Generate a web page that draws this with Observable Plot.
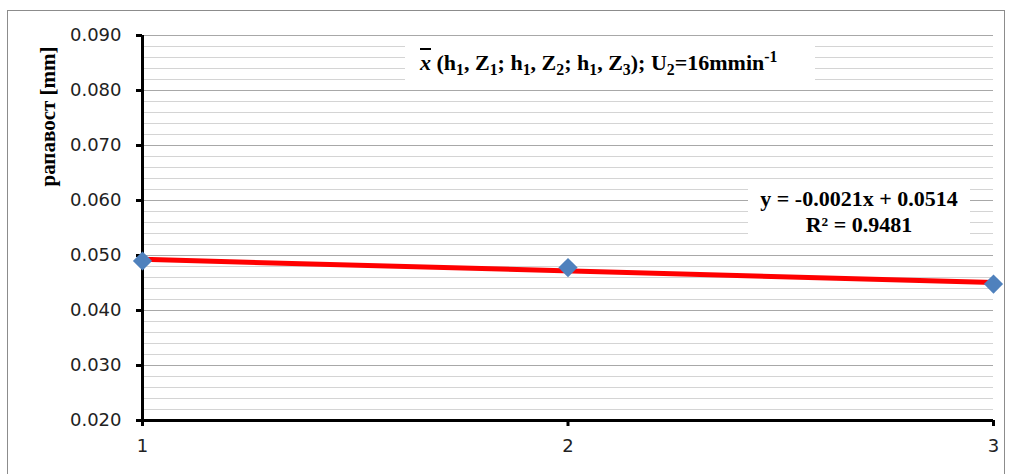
<!DOCTYPE html>
<html><head><meta charset="utf-8">
<script src="https://cdn.jsdelivr.net/npm/d3@7"></script>
<script src="https://cdn.jsdelivr.net/npm/@observablehq/plot@0.6"></script>
<style>
body{margin:0;background:#fff;}
#wrap{position:relative;width:1010px;height:474px;overflow:hidden;background:#fff;}
#border{position:absolute;left:7px;top:10px;width:998px;height:480px;border:1px solid #8c8c8c;box-sizing:border-box;}
#chart{position:absolute;left:0;top:0;}
.box{position:absolute;background:#fff;font-family:"Liberation Serif","Times New Roman",serif;font-weight:bold;color:#000;white-space:nowrap;}
#title{left:405px;top:37px;width:410px;height:52px;font-size:22px;line-height:52px;padding-left:15px;box-sizing:border-box;}
#eq{left:748px;top:186px;width:222px;height:54px;font-size:22px;line-height:26px;text-align:center;}
.ov{text-decoration:overline;font-style:italic;}
sub,sup{font-size:72%;line-height:0;}
</style></head><body>
<div id="wrap"><div id="border"></div><div id="chart"></div>
<div class="box" id="title"></div>
<div class="box" id="eq"></div>
</div>
<script>
// data
const xValues = [1, 2, 3];
const yValues = [0.0490, 0.0478, 0.0448];
const xTicks = [1, 2, 3];
const yTicks = [0.020, 0.030, 0.040, 0.050, 0.060, 0.070, 0.080, 0.090];
const yMinor = d3.range(0.020, 0.0901, 0.002);
const yLabel = "рапавост [mm]";
const titleHTML = '<span class="ov">x</span> (h<sub>1</sub>, Z<sub>1</sub>; h<sub>1</sub>, Z<sub>2</sub>; h<sub>1</sub>, Z<sub>3</sub>); U<sub>2</sub>=16mmin<sup>-1</sup>';
const eqLines = ["y = -0.0021x + 0.0514", "R² = 0.9481"];

const data = xValues.map((x, i) => ({x, y: yValues[i]}));

const squareDiamond = {
  draw(ctx, size) {
    const h = Math.sqrt(size / Math.PI) * 1.2;
    ctx.moveTo(0, -h); ctx.lineTo(h, 0); ctx.lineTo(0, h); ctx.lineTo(-h, 0); ctx.closePath();
  }
};

const chart = Plot.plot({
  width: 1010,
  height: 474,
  marginLeft: 142,
  marginRight: 17,
  marginTop: 35,
  marginBottom: 54,
  style: {fontFamily: "'DejaVu Sans', sans-serif", fontSize: "18px", color: "#222", background: "transparent"},
  x: {domain: [1, 3]},
  y: {domain: [0.020, 0.090]},
  marks: [
    Plot.ruleY(yMinor, {stroke: "#d4d4d4", strokeWidth: 1}),
    Plot.ruleY(yTicks, {stroke: "#a8a8a8", strokeWidth: 1}),
    Plot.axisY(yTicks, {tickFormat: d3.format(".3f"), tickSize: 6, tickPadding: 15, strokeWidth: 3, stroke: "#000", label: null, fontSize: 18, fill: "#222"}),
    Plot.axisX(xTicks, {tickFormat: d3.format("d"), tickSize: 6, tickPadding: 13, strokeWidth: 3, stroke: "#000", label: null, fontSize: 18, fill: "#222"}),
    Plot.ruleX([1], {stroke: "#000", strokeWidth: 3}),
    Plot.ruleY([0.020], {stroke: "#000", strokeWidth: 3}),
    Plot.linearRegressionY(data, {x: "x", y: "y", ci: 0, stroke: "#ff0000", strokeWidth: 5}),
    Plot.dot(data, {x: "x", y: "y", symbol: squareDiamond, r: 8, fill: "#4f81bd", stroke: "none"}),
    Plot.text([yLabel], {frameAnchor: "top-left", rotate: -90, dx: -94, dy: 81, textAnchor: "middle", lineAnchor: "middle",
      fontFamily: "'Liberation Serif', serif", fontWeight: "bold", fontSize: 21, fill: "#000"})
  ]
});
document.getElementById("chart").appendChild(chart);
document.getElementById("title").innerHTML = titleHTML;
document.getElementById("eq").innerHTML = eqLines.join("<br>");
</script>
</body></html>
